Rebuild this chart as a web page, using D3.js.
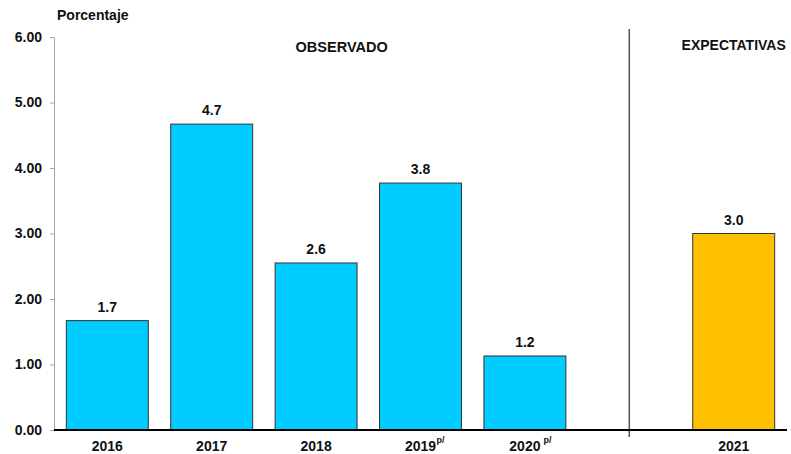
<!DOCTYPE html>
<html>
<head>
<meta charset="utf-8">
<script src="https://cdn.jsdelivr.net/npm/d3@7"></script>
<style>
  body { margin: 0; background: #fff; }
  svg text { font-family: Arial, "Liberation Sans", sans-serif; font-weight: bold; fill: #111; }
</style>
</head>
<body>
<div id="chart"></div>
<script>
    // values
    const years = ["2016", "2017", "2018", "2019", "2020", "2021"];
    const values = [1.67, 4.67, 2.55, 3.77, 1.13, 3.0];
    const labels = ["1.7", "4.7", "2.6", "3.8", "1.2", "3.0"];
    const notes = ["", "", "", "p/", " p/", ""];
    const groups = ["obs", "obs", "obs", "obs", "obs", "exp"];
    const yTicks = [0, 1, 2, 3, 4, 5, 6];

    const width = 791;
    const height = 454;
    const margin = { left: 54, right: 4, top: 37, bottom: 24 };

    const colors = { obs: "#00CCFF", exp: "#FFC000" };

    // empty slot between observed and expected years
    const slots = years.slice(0, 5).concat(["gap"], years.slice(5));

    const x = d3.scaleBand()
        .domain(slots)
        .range([margin.left, width - margin.right])
        .paddingInner(0.215)
        .paddingOuter(0.118);

    const y = d3.scaleLinear()
        .domain([0, 6])
        .range([height - margin.bottom, margin.top]);

    const svg = d3.select("#chart").append("svg")
        .attr("width", width)
        .attr("height", height);

    const yAxis = svg.append("g")
        .attr("transform", `translate(${margin.left},0)`)
        .call(d3.axisLeft(y).tickValues(yTicks).tickFormat(d3.format(".2f"))
            .tickSize(4).tickSizeOuter(0).tickPadding(8));
    yAxis.select(".domain").attr("stroke", "#a6a6a6");
    yAxis.selectAll(".tick line").attr("stroke", "#a6a6a6");
    yAxis.selectAll(".tick text").style("font-size", "14px").attr("fill", "#111");

    svg.append("text")
        .attr("x", 57)
        .attr("y", 20)
        .style("font-size", "14px")
        .text("Porcentaje");

    // divider between observed and expected
    const gapX = x("gap") + x.bandwidth() / 2;
    svg.append("line")
        .attr("x1", gapX).attr("x2", gapX)
        .attr("y1", 29).attr("y2", y(0) + 7)
        .attr("stroke", "#555")
        .attr("stroke-width", 1.5);

    const bars = years.map((d, i) => ({ year: d, value: values[i], label: labels[i], note: notes[i], group: groups[i] }));

    svg.append("g")
        .selectAll("rect")
        .data(bars)
        .join("rect")
        .attr("x", d => x(d.year))
        .attr("y", d => y(d.value))
        .attr("width", x.bandwidth())
        .attr("height", d => y(0) - y(d.value))
        .attr("fill", d => colors[d.group])
        .attr("stroke", "#333")
        .attr("stroke-width", 1);

    svg.append("g")
        .selectAll("text")
        .data(bars)
        .join("text")
        .attr("x", d => x(d.year) + x.bandwidth() / 2)
        .attr("y", d => y(d.value) - 9)
        .attr("text-anchor", "middle")
        .style("font-size", "14px")
        .text(d => d.label);

    // baseline
    svg.append("line")
        .attr("x1", margin.left).attr("x2", 787)
        .attr("y1", y(0)).attr("y2", y(0))
        .attr("stroke", "#000")
        .attr("stroke-width", 2);

    // year labels with superscript notes
    const yl = svg.append("g")
        .selectAll("g")
        .data(bars)
        .join("g")
        .attr("transform", d => `translate(${x(d.year) + x.bandwidth() / 2},451)`);
    yl.append("text")
        .attr("text-anchor", "middle")
        .style("font-size", "14px")
        .text(d => d.year);
    yl.filter(d => d.note)
        .append("text")
        .attr("x", 16)
        .attr("y", -8)
        .style("font-size", "9px")
        .style("white-space", "pre")
        .attr("xml:space", "preserve")
        .text(d => d.note);

    svg.append("text")
        .attr("x", (margin.left + gapX) / 2)
        .attr("y", 52)
        .attr("text-anchor", "middle")
        .style("font-size", "14.5px")
        .text("OBSERVADO");

    svg.append("text")
        .attr("x", x("2021") + x.bandwidth() / 2)
        .attr("y", 50)
        .attr("text-anchor", "middle")
        .style("font-size", "14px")
        .text("EXPECTATIVAS");
</script>
</body>
</html>
